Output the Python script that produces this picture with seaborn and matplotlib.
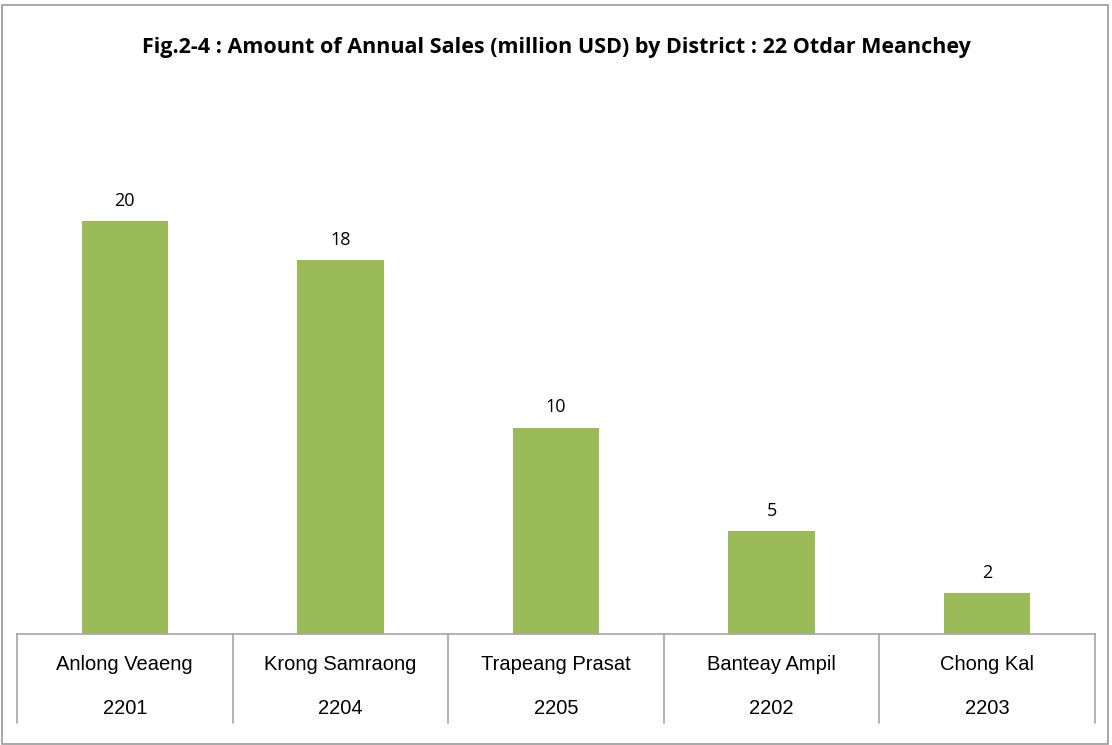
import matplotlib
matplotlib.use("Agg")
import matplotlib.pyplot as plt
import matplotlib.transforms as mtransforms
from matplotlib.patches import Rectangle
import seaborn as sns
import pandas as pd

districts = ["Anlong Veaeng", "Krong Samraong", "Trapeang Prasat", "Banteay Ampil", "Chong Kal"]
codes = ["2201", "2204", "2205", "2202", "2203"]
sales = [20.0, 18.1, 10.0, 5.0, 2.0]
value_labels = ["20", "18", "10", "5", "2"]
title = "Fig.2-4 : Amount of Annual Sales (million USD) by District : 22 Otdar Meanchey"

df = pd.DataFrame({"district": districts, "sales": sales})

sns.set_style("white")
plt.rcParams["font.family"] = ["Liberation Sans", "DejaVu Sans"]

W, H = 1112, 745
fig = plt.figure(figsize=(W / 100, H / 100), dpi=100)
fig.patch.set_facecolor("white")

# outer chart border
fig.patches.append(Rectangle((1.5 / W, 1.5 / H), (1108 - 1.5) / W, (740.5 - 1.5) / H,
                             transform=fig.transFigure, fill=False,
                             edgecolor="#9a9a9a", linewidth=1.2))

ax_left, ax_right, ax_top, ax_bottom = 17, 1095, 118, 634
ax = fig.add_axes([ax_left / W, 1 - ax_bottom / H, (ax_right - ax_left) / W, (ax_bottom - ax_top) / H])

sns.barplot(data=df, x="district", y="sales", color="#9BBB59", width=0.4,
            saturation=1, ax=ax, edgecolor="none")
ax.set_xlim(-0.5, len(districts) - 0.5)
ax.set_ylim(0, 25)
ax.set_xlabel("")
ax.set_ylabel("")
ax.set_yticks([])
ax.set_xticks([])
for s in ["top", "right", "left"]:
    ax.spines[s].set_visible(False)
ax.spines["bottom"].set_color("#a6a6a6")
ax.spines["bottom"].set_linewidth(1.2)

# value labels
for i, (v, lab) in enumerate(zip(sales, value_labels)):
    ax.annotate(lab, (i, v), xytext=(0, 8), textcoords="offset points",
                ha="center", va="bottom", fontsize=13,
                family=["Open Sans", "DejaVu Sans"], color="#000000")

# category table below the axis
axh = ax_bottom - ax_top
trans = mtransforms.blended_transform_factory(ax.transData, ax.transAxes)
row1 = -(665 - ax_bottom) / axh
row2 = -(708 - ax_bottom) / axh
lbot = -(723 - ax_bottom) / axh
for b in range(len(districts) + 1):
    ax.plot([b - 0.5, b - 0.5], [0, lbot], transform=trans, color="#a6a6a6",
            linewidth=1.2, clip_on=False)
for i, (d, c) in enumerate(zip(districts, codes)):
    ax.text(i, row1, d, transform=trans, ha="center", va="center", fontsize=14.5, color="#000000")
    ax.text(i, row2, c, transform=trans, ha="center", va="center", fontsize=14.5, color="#000000")

fig.text(556 / W, 1 - 47 / H, title, ha="center", va="center", fontsize=15.5,
         fontweight="bold", family=["Open Sans", "DejaVu Sans"], color="#000000")

fig.savefig("out.png", dpi=100, facecolor="white")
